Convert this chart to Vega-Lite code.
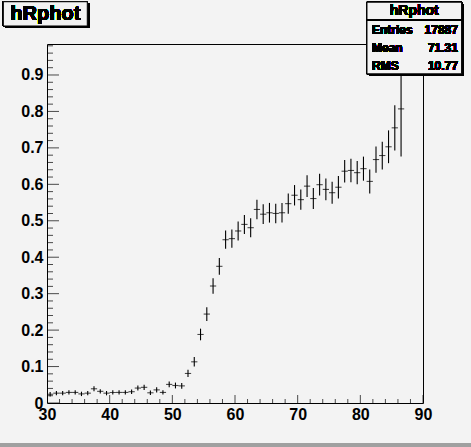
{
  "$schema": "https://vega.github.io/schema/vega-lite/v6.json",
  "width": 376,
  "height": 359,
  "autosize": {"type": "none"},
  "padding": {"left": 47, "top": 44, "right": 48, "bottom": 44},
  "background": "#f3f3f3",
  "config": {
    "view": {"stroke": "black", "strokeWidth": 1},
    "axis": {
      "labelFont": "Liberation Sans",
      "labelFontWeight": "bold",
      "labelFontSize": 16,
      "labelColor": "black",
      "domain": false,
      "ticks": true,
      "tickSize": 0,
      "grid": false,
      "title": null,
      "labelOverlap": false,
      "labelFlush": false
    }
  },
  "resolve": {"axis": {"x": "independent", "y": "independent"}},
  "datasets": {
    "xmaj": [{"v": 30}, {"v": 40}, {"v": 50}, {"v": 60}, {"v": 70}, {"v": 80}, {"v": 90}],
    "xmin": [{"v": 32}, {"v": 34}, {"v": 36}, {"v": 38}, {"v": 42}, {"v": 44}, {"v": 46}, {"v": 48}, {"v": 52}, {"v": 54}, {"v": 56}, {"v": 58}, {"v": 62}, {"v": 64}, {"v": 66}, {"v": 68}, {"v": 72}, {"v": 74}, {"v": 76}, {"v": 78}, {"v": 82}, {"v": 84}, {"v": 86}, {"v": 88}],
    "ymaj": [{"v": 0}, {"v": 0.1}, {"v": 0.2}, {"v": 0.3}, {"v": 0.4}, {"v": 0.5}, {"v": 0.6}, {"v": 0.7}, {"v": 0.8}, {"v": 0.9}],
    "ymin": [{"v": 0.02}, {"v": 0.04}, {"v": 0.06}, {"v": 0.08}, {"v": 0.12}, {"v": 0.14}, {"v": 0.16}, {"v": 0.18}, {"v": 0.22}, {"v": 0.24}, {"v": 0.26}, {"v": 0.28}, {"v": 0.32}, {"v": 0.34}, {"v": 0.36}, {"v": 0.38}, {"v": 0.42}, {"v": 0.44}, {"v": 0.46}, {"v": 0.48}, {"v": 0.52}, {"v": 0.54}, {"v": 0.56}, {"v": 0.58}, {"v": 0.62}, {"v": 0.64}, {"v": 0.66}, {"v": 0.68}, {"v": 0.72}, {"v": 0.74}, {"v": 0.76}, {"v": 0.78}, {"v": 0.82}, {"v": 0.84}, {"v": 0.86}, {"v": 0.88}, {"v": 0.92}, {"v": 0.94}, {"v": 0.96}, {"v": 0.98}]
  },
  "data": {
    "values": [
      {"x": 30.5, "y": 0.024, "lo": 0.018, "hi": 0.030},
      {"x": 31.5, "y": 0.027, "lo": 0.021, "hi": 0.033},
      {"x": 32.5, "y": 0.027, "lo": 0.021, "hi": 0.033},
      {"x": 33.5, "y": 0.029, "lo": 0.023, "hi": 0.035},
      {"x": 34.5, "y": 0.029, "lo": 0.023, "hi": 0.035},
      {"x": 35.5, "y": 0.025, "lo": 0.019, "hi": 0.031},
      {"x": 36.5, "y": 0.027, "lo": 0.021, "hi": 0.033},
      {"x": 37.5, "y": 0.039, "lo": 0.032, "hi": 0.046},
      {"x": 38.5, "y": 0.032, "lo": 0.026, "hi": 0.038},
      {"x": 39.5, "y": 0.027, "lo": 0.021, "hi": 0.033},
      {"x": 40.5, "y": 0.029, "lo": 0.023, "hi": 0.035},
      {"x": 41.5, "y": 0.029, "lo": 0.023, "hi": 0.035},
      {"x": 42.5, "y": 0.029, "lo": 0.023, "hi": 0.035},
      {"x": 43.5, "y": 0.031, "lo": 0.025, "hi": 0.037},
      {"x": 44.5, "y": 0.041, "lo": 0.034, "hi": 0.048},
      {"x": 45.5, "y": 0.043, "lo": 0.036, "hi": 0.050},
      {"x": 46.5, "y": 0.028, "lo": 0.022, "hi": 0.034},
      {"x": 47.5, "y": 0.036, "lo": 0.029, "hi": 0.043},
      {"x": 48.5, "y": 0.029, "lo": 0.023, "hi": 0.035},
      {"x": 49.5, "y": 0.051, "lo": 0.043, "hi": 0.059},
      {"x": 50.5, "y": 0.048, "lo": 0.040, "hi": 0.056},
      {"x": 51.5, "y": 0.047, "lo": 0.039, "hi": 0.055},
      {"x": 52.5, "y": 0.081, "lo": 0.071, "hi": 0.091},
      {"x": 53.5, "y": 0.113, "lo": 0.100, "hi": 0.126},
      {"x": 54.5, "y": 0.188, "lo": 0.172, "hi": 0.204},
      {"x": 55.5, "y": 0.244, "lo": 0.225, "hi": 0.263},
      {"x": 56.5, "y": 0.321, "lo": 0.300, "hi": 0.342},
      {"x": 57.5, "y": 0.375, "lo": 0.352, "hi": 0.398},
      {"x": 58.5, "y": 0.448, "lo": 0.423, "hi": 0.473},
      {"x": 59.5, "y": 0.451, "lo": 0.426, "hi": 0.476},
      {"x": 60.5, "y": 0.472, "lo": 0.446, "hi": 0.498},
      {"x": 61.5, "y": 0.490, "lo": 0.464, "hi": 0.516},
      {"x": 62.5, "y": 0.481, "lo": 0.455, "hi": 0.507},
      {"x": 63.5, "y": 0.531, "lo": 0.504, "hi": 0.558},
      {"x": 64.5, "y": 0.518, "lo": 0.491, "hi": 0.545},
      {"x": 65.5, "y": 0.522, "lo": 0.495, "hi": 0.549},
      {"x": 66.5, "y": 0.520, "lo": 0.493, "hi": 0.547},
      {"x": 67.5, "y": 0.522, "lo": 0.495, "hi": 0.549},
      {"x": 68.5, "y": 0.547, "lo": 0.519, "hi": 0.575},
      {"x": 69.5, "y": 0.570, "lo": 0.542, "hi": 0.598},
      {"x": 70.5, "y": 0.558, "lo": 0.530, "hi": 0.586},
      {"x": 71.5, "y": 0.595, "lo": 0.565, "hi": 0.625},
      {"x": 72.5, "y": 0.561, "lo": 0.532, "hi": 0.590},
      {"x": 73.5, "y": 0.599, "lo": 0.569, "hi": 0.629},
      {"x": 74.5, "y": 0.586, "lo": 0.556, "hi": 0.616},
      {"x": 75.5, "y": 0.577, "lo": 0.547, "hi": 0.607},
      {"x": 76.5, "y": 0.592, "lo": 0.561, "hi": 0.623},
      {"x": 77.5, "y": 0.636, "lo": 0.605, "hi": 0.667},
      {"x": 78.5, "y": 0.638, "lo": 0.606, "hi": 0.670},
      {"x": 79.5, "y": 0.632, "lo": 0.600, "hi": 0.664},
      {"x": 80.5, "y": 0.643, "lo": 0.610, "hi": 0.676},
      {"x": 81.5, "y": 0.608, "lo": 0.575, "hi": 0.641},
      {"x": 82.5, "y": 0.668, "lo": 0.632, "hi": 0.704},
      {"x": 83.5, "y": 0.679, "lo": 0.641, "hi": 0.717},
      {"x": 84.5, "y": 0.703, "lo": 0.658, "hi": 0.748},
      {"x": 85.5, "y": 0.755, "lo": 0.693, "hi": 0.817},
      {"x": 86.5, "y": 0.807, "lo": 0.676, "hi": 0.938}
    ]
  },
  "layer": [
    {
      "mark": {"type": "rule", "color": "black", "strokeWidth": 1.1},
      "encoding": {
        "x": {
          "field": "x", "type": "quantitative",
          "scale": {"domain": [30, 90], "nice": false, "zero": false},
          "axis": {
            "orient": "bottom",
            "values": [30, 40, 50, 60, 70, 80, 90],
            "tickSize": 0,
            "labelPadding": 3
          }
        },
        "y": {
          "field": "lo", "type": "quantitative",
          "scale": {"domain": [0, 0.985], "nice": false, "zero": false},
          "axis": {
            "orient": "left",
            "values": [0, 0.1, 0.2, 0.3, 0.4, 0.5, 0.6, 0.7, 0.8, 0.9],
            "format": ".1f",
            "labelExpr": "datum.value == 0 ? '0' : datum.label",
            "tickSize": 0,
            "labelPadding": 4
          }
        },
        "y2": {"field": "hi"}
      }
    },
    {
      "mark": {"type": "tick", "orient": "horizontal", "size": 6.27, "thickness": 1.1, "color": "black"},
      "encoding": {
        "x": {"field": "x", "type": "quantitative", "axis": null},
        "y": {"field": "y", "type": "quantitative", "axis": null}
      }
    },
    {
      "data": {"name": "xmaj"},
      "mark": {"type": "tick", "orient": "vertical", "size": 16, "thickness": 1, "color": "black", "clip": true},
      "encoding": {
        "x": {"field": "v", "type": "quantitative", "axis": null},
        "y": {"datum": 0, "type": "quantitative", "axis": null}
      }
    },
    {
      "data": {"name": "xmin"},
      "mark": {"type": "tick", "orient": "vertical", "size": 8, "thickness": 1, "color": "black", "clip": true},
      "encoding": {
        "x": {"field": "v", "type": "quantitative", "axis": null},
        "y": {"datum": 0, "type": "quantitative", "axis": null}
      }
    },
    {
      "data": {"name": "ymaj"},
      "mark": {"type": "tick", "orient": "horizontal", "size": 24, "thickness": 1, "color": "black", "clip": true},
      "encoding": {
        "y": {"field": "v", "type": "quantitative", "axis": null},
        "x": {"datum": 30, "type": "quantitative", "axis": null}
      }
    },
    {
      "data": {"name": "ymin"},
      "mark": {"type": "tick", "orient": "horizontal", "size": 12, "thickness": 1, "color": "black", "clip": true},
      "encoding": {
        "y": {"field": "v", "type": "quantitative", "axis": null},
        "x": {"datum": 30, "type": "quantitative", "axis": null}
      }
    },
    {
      "mark": {"type": "rect", "fill": "black"},
      "encoding": {
        "x": {"datum": 81.38, "type": "quantitative", "axis": null}, "x2": {"datum": 96.48},
        "y": {"datum": 1.0942, "type": "quantitative", "axis": null}, "y2": {"datum": 0.8977}
      }
    },
    {
      "mark": {"type": "rect", "fill": "#f3f3f3", "stroke": "black", "strokeWidth": 1},
      "encoding": {
        "x": {"datum": 81.06, "type": "quantitative", "axis": null}, "x2": {"datum": 96.16},
        "y": {"datum": 1.0997, "type": "quantitative", "axis": null}, "y2": {"datum": 0.9032}
      }
    },
    {
      "mark": {"type": "rule", "color": "black", "strokeWidth": 1},
      "encoding": {
        "x": {"datum": 81.06, "type": "quantitative", "axis": null}, "x2": {"datum": 96.16},
        "y": {"datum": 1.0506, "type": "quantitative", "axis": null}
      }
    },
    {
      "mark": {"type": "text", "font": "Liberation Sans", "fontWeight": "bold", "fontSize": 14, "align": "center", "baseline": "middle", "color": "black"},
      "encoding": {
        "x": {"datum": 88.61, "type": "quantitative", "axis": null},
        "y": {"datum": 1.0755, "type": "quantitative", "axis": null},
        "text": {"value": "hRphot"}
      }
    },
    {
      "mark": {"type": "text", "font": "Liberation Sans", "fontWeight": "bold", "fontSize": 12, "align": "left", "baseline": "middle", "color": "black"},
      "encoding": {
        "x": {"datum": 81.86, "type": "quantitative", "axis": null},
        "y": {"datum": 1.0235, "type": "quantitative", "axis": null},
        "text": {"value": "Entries"}
      }
    },
    {
      "mark": {"type": "text", "font": "Liberation Sans", "fontWeight": "bold", "fontSize": 12, "align": "left", "baseline": "middle", "color": "black"},
      "encoding": {
        "x": {"datum": 81.86, "type": "quantitative", "axis": null},
        "y": {"datum": 0.974, "type": "quantitative", "axis": null},
        "text": {"value": "Mean"}
      }
    },
    {
      "mark": {"type": "text", "font": "Liberation Sans", "fontWeight": "bold", "fontSize": 12, "align": "left", "baseline": "middle", "color": "black"},
      "encoding": {
        "x": {"datum": 81.86, "type": "quantitative", "axis": null},
        "y": {"datum": 0.9246, "type": "quantitative", "axis": null},
        "text": {"value": "RMS"}
      }
    },
    {
      "mark": {"type": "text", "font": "Liberation Sans", "fontWeight": "bold", "fontSize": 12, "align": "right", "baseline": "middle", "color": "black"},
      "encoding": {
        "x": {"datum": 95.58, "type": "quantitative", "axis": null},
        "y": {"datum": 1.0235, "type": "quantitative", "axis": null},
        "text": {"value": "17887"}
      }
    },
    {
      "mark": {"type": "text", "font": "Liberation Sans", "fontWeight": "bold", "fontSize": 12, "align": "right", "baseline": "middle", "color": "black"},
      "encoding": {
        "x": {"datum": 95.58, "type": "quantitative", "axis": null},
        "y": {"datum": 0.974, "type": "quantitative", "axis": null},
        "text": {"value": "71.31"}
      }
    },
    {
      "mark": {"type": "text", "font": "Liberation Sans", "fontWeight": "bold", "fontSize": 12, "align": "right", "baseline": "middle", "color": "black"},
      "encoding": {
        "x": {"datum": 95.58, "type": "quantitative", "axis": null},
        "y": {"datum": 0.9246, "type": "quantitative", "axis": null},
        "text": {"value": "10.77"}
      }
    },
    {
      "mark": {"type": "rect", "fill": "black"},
      "encoding": {
        "x": {"datum": 23.35, "type": "quantitative", "axis": null}, "x2": {"datum": 36.75},
        "y": {"datum": 1.0955, "type": "quantitative", "axis": null}, "y2": {"datum": 1.0289}
      }
    },
    {
      "mark": {"type": "rect", "fill": "#f3f3f3", "stroke": "black", "strokeWidth": 1},
      "encoding": {
        "x": {"datum": 23.03, "type": "quantitative", "axis": null}, "x2": {"datum": 36.43},
        "y": {"datum": 1.101, "type": "quantitative", "axis": null}, "y2": {"datum": 1.0344}
      }
    },
    {
      "mark": {"type": "text", "font": "Liberation Sans", "fontWeight": "bold", "fontSize": 20, "align": "center", "baseline": "middle", "color": "black"},
      "encoding": {
        "x": {"datum": 29.73, "type": "quantitative", "axis": null},
        "y": {"datum": 1.0673, "type": "quantitative", "axis": null},
        "text": {"value": "hRphot"}
      }
    },
    {
      "mark": {"type": "rect", "fill": "#a0a0a0"},
      "encoding": {
        "x": {"datum": 22.5, "type": "quantitative", "axis": null}, "x2": {"datum": 97.66},
        "y": {"datum": -0.1097, "type": "quantitative", "axis": null}, "y2": {"datum": -0.1207}
      }
    }
  ]
}
